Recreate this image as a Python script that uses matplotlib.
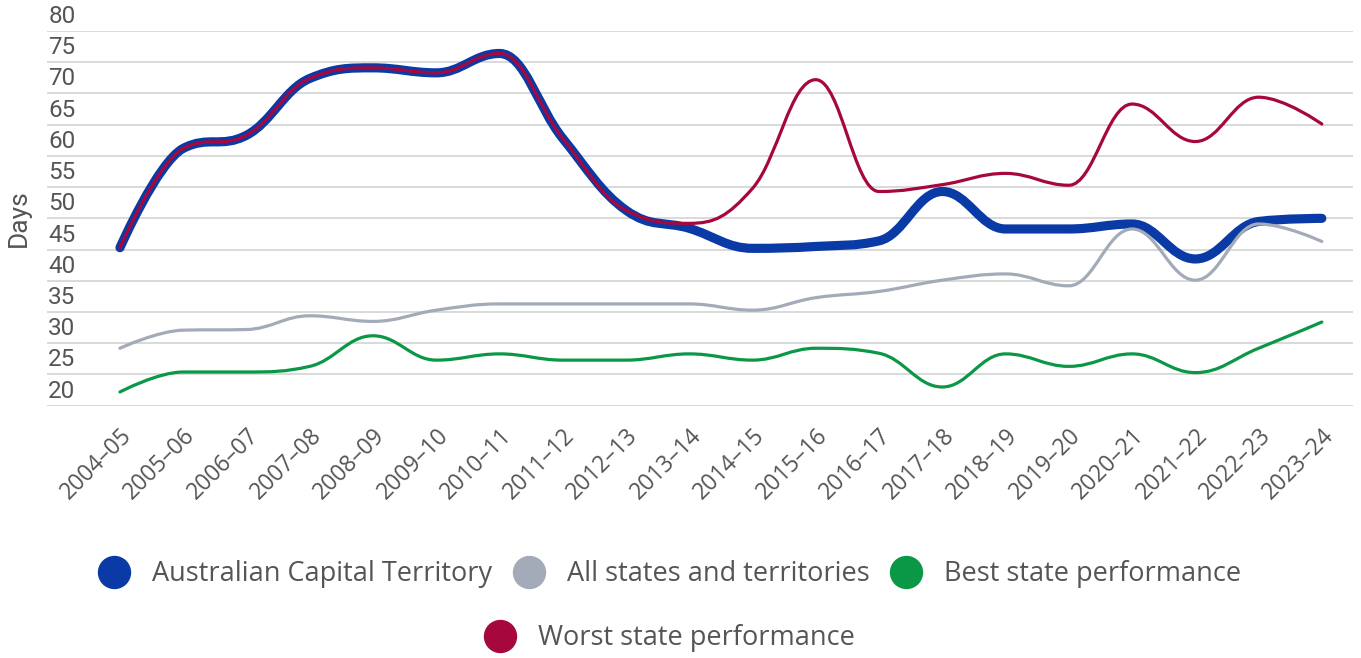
import matplotlib
matplotlib.use("Agg")
import matplotlib.pyplot as plt
import matplotlib.transforms as mtransforms
from matplotlib.path import Path
from matplotlib.patches import PathPatch
from matplotlib.lines import Line2D

years = ["2004–05", "2005–06", "2006–07", "2007–08", "2008–09", "2009–10",
         "2010–11", "2011–12", "2012–13", "2013–14", "2014–15", "2015–16",
         "2016–17", "2017–18", "2018–19", "2019–20", "2020–21", "2021–22",
         "2022–23", "2023–24"]

act = [45.3, 61.2, 63.3, 72.4, 74.1, 73.3, 76.4, 62.8, 51.3, 48.4,
       45.2, 45.5, 46.4, 54.3, 48.3, 48.3, 49.1, 43.5, 49.5, 50.0]
all_states = [29.2, 32.1, 32.2, 34.4, 33.5, 35.3, 36.3, 36.3, 36.3, 36.3,
              35.3, 37.3, 38.3, 40.1, 41.1, 39.2, 48.3, 40.1, 49.1, 46.3]
best = [22.2, 25.4, 25.4, 26.3, 31.2, 27.3, 28.3, 27.3, 27.3, 28.3,
        27.3, 29.2, 28.4, 23.0, 28.3, 26.3, 28.3, 25.3, 29.2, 33.4]
worst = [45.3, 61.2, 63.3, 72.4, 74.1, 73.3, 76.4, 62.8, 51.3, 49.2,
         54.8, 72.2, 54.3, 55.4, 57.2, 55.3, 68.3, 62.3, 69.4, 65.1]

y_ticks = [20, 25, 30, 35, 40, 45, 50, 55, 60, 65, 70, 75, 80]

series_names = ["Australian Capital Territory", "All states and territories",
                "Best state performance", "Worst state performance"]
colors = ["#0a3aa5", "#a3abb8", "#0a9746", "#a6083e"]
widths = [6.6, 2.3, 2.3, 2.3]

text_grey = "#555555"


def spline_path(xs, ys, smoothing=1.5):
    # same kind of smoothing as a Highcharts "spline" series
    n = len(xs)
    denom = smoothing + 1
    right = [(xs[0], ys[0])] * n
    left = [(xs[0], ys[0])] * n
    for i in range(n):
        x, y = xs[i], ys[i]
        if i == 0 or i == n - 1:
            left[i] = (x, y)
            right[i] = (x, y)
            continue
        lx, ly = xs[i - 1], ys[i - 1]
        nx, ny = xs[i + 1], ys[i + 1]
        lcx = (smoothing * x + lx) / denom
        lcy = (smoothing * y + ly) / denom
        rcx = (smoothing * x + nx) / denom
        rcy = (smoothing * y + ny) / denom
        corr = 0
        if rcx != lcx:
            corr = (rcy - lcy) * (rcx - x) / (rcx - lcx) + y - rcy
        lcy += corr
        rcy += corr
        if lcy > ly and lcy > y:
            lcy = max(ly, y)
            rcy = 2 * y - lcy
        elif lcy < ly and lcy < y:
            lcy = min(ly, y)
            rcy = 2 * y - lcy
        if rcy > ny and rcy > y:
            rcy = max(ny, y)
            lcy = 2 * y - rcy
        elif rcy < ny and rcy < y:
            rcy = min(ny, y)
            lcy = 2 * y - rcy
        left[i] = (lcx, lcy)
        right[i] = (rcx, rcy)
    verts = [(xs[0], ys[0])]
    codes = [Path.MOVETO]
    for i in range(1, n):
        verts += [right[i - 1], left[i], (xs[i], ys[i])]
        codes += [Path.CURVE4] * 3
    return Path(verts, codes)


fig = plt.figure(figsize=(13.61, 6.58), dpi=100)
ax = fig.add_axes([0.0345, 0.3834, 0.9595, 0.5695])

x = list(range(len(years)))
for vals, col, lw in zip([act, all_states, best, worst], colors, widths):
    patch = PathPatch(spline_path(x, vals), fill=False, edgecolor=col,
                      lw=lw, capstyle="round", joinstyle="round", zorder=3)
    ax.add_patch(patch)

ax.set_xlim(-1.154, 19.49)
ax.set_ylim(20, 80)

for s in ax.spines.values():
    s.set_visible(False)

ax.set_yticks(y_ticks)
ax.set_yticklabels([])
ax.tick_params(axis="both", length=0)
ax.yaxis.grid(True, color="#d9d9d9", lw=1.4)
ax.set_axisbelow(True)
ax.axhline(20, color="#d9d9d9", lw=1.4, zorder=1)

# y labels sit just above their grid line
offset = mtransforms.ScaledTranslation(0, 8 / 100, fig.dpi_scale_trans)
for t in y_ticks:
    ax.text(0.001, t, str(t), transform=ax.get_yaxis_transform() + offset,
            ha="left", va="baseline", fontsize=17.5, color=text_grey,
            family="Roboto")

ax.set_xticks(x)
ax.set_xticklabels(years, rotation=45, ha="right", rotation_mode="anchor",
                   fontsize=16.5, color=text_grey, family="Open Sans")
ax.tick_params(axis="x", pad=13)

fig.text(0.014, 1 - 218 / 658, "Days", rotation=90, ha="center", va="center",
         fontsize=19, color=text_grey, family="Roboto")

handles = [Line2D([], [], marker="o", ls="none", markersize=23,
                  markerfacecolor=c, markeredgecolor=c) for c in colors]

leg_kw = dict(frameon=False, handlelength=0.8, handletextpad=1.0,
              columnspacing=0.95, borderpad=0, loc="center",
              prop={"family": "Open Sans", "size": 19.5})
leg1 = fig.legend(handles[:3], series_names[:3], ncol=3,
                  bbox_to_anchor=(0.494, 1 - 574 / 658), **leg_kw)
leg2 = fig.legend(handles[3:], series_names[3:], ncol=1,
                  bbox_to_anchor=(0.494, 1 - 638 / 658), **leg_kw)
for leg in (leg1, leg2):
    for t in leg.get_texts():
        t.set_color(text_grey)

fig.savefig("out.png", dpi=100)
